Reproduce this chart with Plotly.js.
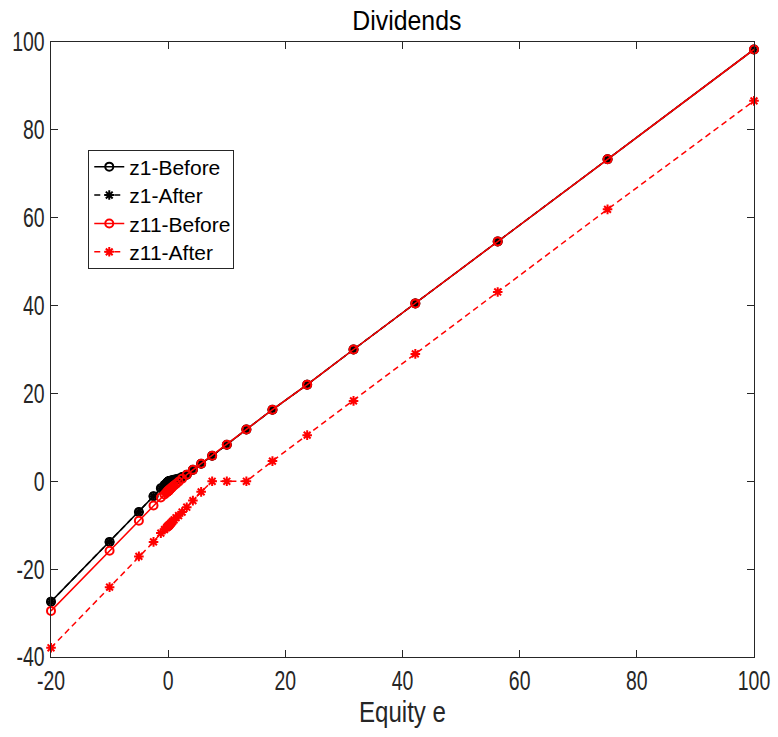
<!DOCTYPE html>
<html>
<head>
<meta charset="utf-8">
<script src="https://cdn.plot.ly/plotly-3.0.1.min.js"></script>
<style>html,body{margin:0;padding:0;background:#fff;}#chart{width:778px;height:737px;}</style>
</head>
<body>
<div id="chart"></div>
<script>
// Equity grid (shared x values)
const equity = [-20, -10, -5, -2.5, -1.25, -0.63, -0.31, -0.16, -0.08, -0.04,
  0.04, 0.06, 0.08, 0.10, 0.13, 0.18, 0.24, 0.32, 0.42, 0.56, 0.75, 1.00, 1.34, 1.78, 2.38,
  3.17, 4.22, 5.63, 7.51, 10.01, 13.35, 17.80, 23.73, 31.64, 42.19, 56.25, 75, 100];

const z1Before = [-27.4, -13.8, -7.0, -3.4, -1.6, -0.85, -0.5, -0.3, -0.2, -0.12,
  -0.08, -0.06, -0.05, -0.03, 0, 0.02, 0.05, 0.08, 0.12, 0.18, 0.25, 0.33, 0.45, 0.6, 0.95,
  1.5, 2.6, 4.0, 5.8, 8.3, 11.8, 16.3, 22.0, 30.0, 40.5, 54.6, 73.3, 98.3];

const z1After = [-27.4, -13.8, -7.0, -3.4, -1.6, -0.85, -0.5, -0.3, -0.2, -0.12,
  -0.08, -0.06, -0.05, -0.03, 0, 0.02, 0.05, 0.08, 0.12, 0.18, 0.25, 0.33, 0.45, 0.6, 0.95,
  1.5, 2.6, 4.0, 5.8, 8.3, 11.8, 16.3, 22.0, 30.0, 40.5, 54.6, 73.3, 98.3];

const z11Before = [-29.5, -15.8, -9.0, -5.5, -3.7, -3.0, -2.6, -2.4, -2.3, -2.25,
  -2.2, -2.18, -2.15, -2.1, -2.05, -2.0, -1.9, -1.8, -1.65, -1.5, -1.25, -0.95, -0.6, -0.1, 0.6,
  1.5, 2.6, 4.0, 5.8, 8.3, 11.8, 16.3, 22.0, 30.0, 40.5, 54.6, 73.3, 98.3];

const z11After = [-37.9, -24.1, -17.1, -13.8, -11.8, -11.0, -10.6, -10.4, -10.3, -10.25,
  -10.2, -10.18, -10.15, -10.1, -10.05, -10.0, -9.9, -9.8, -9.65, -9.45, -9.15, -8.8, -8.3, -7.8, -7.0,
  -5.9, -4.4, -2.4, 0, 0, 0, 4.6, 10.5, 18.3, 29.0, 43.1, 61.9, 86.6];

const seriesNames = ['z1-Before', 'z1-After', 'z11-Before', 'z11-After'];
const xTicks = [-20, 0, 20, 40, 60, 80, 100];
const yTicks = [-40, -20, 0, 20, 40, 60, 80, 100];

const FONT = '"Liberation Sans", Arial, sans-serif';
const AX = '#262626';

function tr(name, y, color, dash, symbol) {
  return {
    x: equity, y: y, name: name, type: 'scatter', mode: 'lines+markers',
    cliponaxis: false,
    line: {color: color, width: 1.5, dash: dash},
    marker: {symbol: symbol, size: 8, color: color, line: {color: color, width: 2}}
  };
}

const data = [
  tr(seriesNames[0], z1Before, '#000000', 'solid', 'circle-open'),
  tr(seriesNames[1], z1After, '#000000', '6px,4px', 'asterisk-open'),
  tr(seriesNames[2], z11Before, '#ff0000', 'solid', 'circle-open'),
  tr(seriesNames[3], z11After, '#ff0000', '6px,4px', 'asterisk-open')
];

const axisBase = {
  showgrid: false, zeroline: false, showline: true, mirror: 'ticks',
  linecolor: AX, linewidth: 1, ticks: 'inside', ticklen: 7, tickwidth: 1,
  tickcolor: AX, tickfont: {family: FONT, size: 27, color: AX}
};

const layout = {
  width: 778, height: 737,
  margin: {l: 51, r: 24, t: 42, b: 80},
  paper_bgcolor: '#ffffff', plot_bgcolor: '#ffffff',
  title: {text: 'Dividends', font: {family: FONT, size: 27, color: '#000'}, x: 0.523, xanchor: 'center', y: 0.972, yanchor: 'middle'},
  xaxis: Object.assign({}, axisBase, {
    range: [-20, 100], tickvals: xTicks, ticktext: xTicks.map(String),
    title: {text: 'Equity e', font: {family: FONT, size: 29, color: AX}, standoff: 6}
  }),
  yaxis: Object.assign({}, axisBase, {
    range: [-40, 100], tickvals: yTicks, ticktext: yTicks.map(String)
  }),
  showlegend: true,
  legend: {
    x: 0.053, y: 0.825, xanchor: 'left', yanchor: 'top',
    bgcolor: '#ffffff', bordercolor: '#262626', borderwidth: 1,
    font: {family: FONT, size: 21, color: '#000'},
    tracegroupgap: 0, itemwidth: 30
  }
};

// narrow the text horizontally around its anchor point
function squeeze(sel, ratio) {
  document.querySelectorAll(sel).forEach(function (t) {
    const x0 = parseFloat(t.getAttribute('x')) || 0;
    const prev = t.getAttribute('transform') || '';
    t.setAttribute('transform', prev + ' translate(' + x0 + ',0) scale(' + ratio + ',1) translate(' + (-x0) + ',0)');
  });
}

function tightenLegend(step, firstOffset, bottomPad, width) {
  const items = document.querySelectorAll('.legend .traces');
  const bg = document.querySelector('.legend rect.bg');
  if (!items.length || !bg) return;
  items.forEach(function (g, i) {
    const m = /translate\(([-\d.]+)[ ,]+([-\d.]+)\)/.exec(g.getAttribute('transform') || '');
    const xx = m ? parseFloat(m[1]) : 0;
    g.setAttribute('transform', 'translate(' + xx + ',' + (firstOffset + i * step) + ')');
  });
  bg.setAttribute('height', (firstOffset + (items.length - 1) * step + bottomPad).toFixed(1));
  bg.setAttribute('width', width);
}

Plotly.newPlot('chart', data, layout, {displayModeBar: false, staticPlot: true}).then(function () {
  squeeze('.xtick text, .ytick text', 0.72);
  squeeze('.gtitle', 0.92);
  squeeze('.xtitle', 0.83);
  tightenLegend(28.4, 17, 16, 145);
});
</script>
</body>
</html>
